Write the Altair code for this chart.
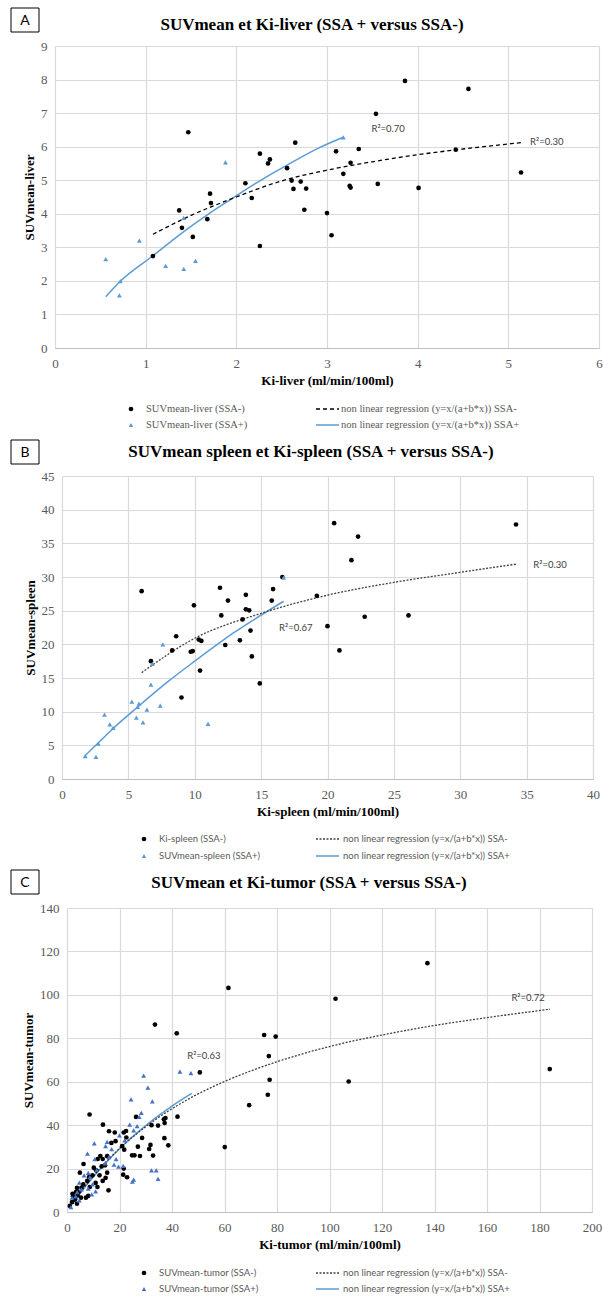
import altair as alt
import pandas as pd

SERIF = "Liberation Serif"
SANS = "Lato"
BLUE = "#5B9BD5"
BLUE_C = "#4472C4"
GREY = "#595959"

# ---------------- Panel A : liver ----------------
A_neg_x = [3.86, 4.56, 3.54, 1.47, 2.65, 4.42, 3.35, 3.10, 2.26, 2.37, 2.35, 3.26, 5.14, 2.56, 3.18,
           2.10, 2.61, 2.71, 3.56, 3.25, 3.26, 2.63, 2.77, 4.01, 1.71, 2.17, 1.37, 1.72, 2.75, 3.00,
           1.40, 1.68, 1.52, 3.05, 2.26, 1.08]
A_neg_y = [7.96, 7.72, 6.98, 6.43, 6.12, 5.91, 5.93, 5.86, 5.79, 5.62, 5.50, 5.52, 5.23, 5.36, 5.19,
           4.91, 4.99, 4.96, 4.89, 4.83, 4.78, 4.74, 4.75, 4.77, 4.60, 4.47, 4.10, 4.32, 4.12, 4.02,
           3.58, 3.84, 3.31, 3.36, 3.04, 2.74]
A_pos_x = [1.88, 3.18, 1.42, 0.93, 0.56, 0.72, 0.71, 1.22, 1.42, 1.55]
A_pos_y = [5.53, 6.28, 3.88, 3.20, 2.65, 1.99, 1.57, 2.45, 2.36, 2.60]
A_fit_neg_x = [1.08, 1.5, 2.0, 2.5, 3.0, 3.5, 4.0, 4.5, 5.14]
A_fit_neg_y = [3.39, 3.95, 4.50, 4.98, 5.30, 5.55, 5.76, 5.93, 6.12]
A_fit_pos_x = [0.56, 0.72, 1.08, 1.42, 1.68, 1.94, 2.3, 2.56, 2.9, 3.18]
A_fit_pos_y = [1.53, 1.99, 2.75, 3.47, 3.97, 4.43, 5.05, 5.45, 5.95, 6.28]
A_r2_text = ["R²=0.70", "R²=0.30"]
A_r2_x = [3.49, 5.24]
A_r2_y = [6.52, 6.15]

# ---------------- Panel B : spleen ----------------
B_neg_x = [34.2, 20.5, 22.3, 21.8, 6.0, 16.6, 19.2, 11.9, 13.85, 15.9, 12.5, 15.8, 9.94, 13.85, 14.1,
           12.0, 13.6, 22.8, 26.1, 20.0, 14.2, 8.6, 10.3, 10.5, 13.4, 12.3, 8.3, 9.7, 9.85, 20.9,
           6.7, 14.3, 10.4, 14.9, 9.0]
B_neg_y = [37.8, 38.0, 36.0, 32.5, 27.9, 30.0, 27.2, 28.4, 27.35, 28.2, 26.5, 26.5, 25.8, 25.2, 25.05,
           24.3, 23.7, 24.1, 24.3, 22.7, 22.05, 21.2, 20.7, 20.5, 20.6, 19.9, 19.1, 18.9, 19.0, 19.1,
           17.5, 18.2, 16.1, 14.2, 12.1]
B_pos_x = [16.7, 7.6, 6.8, 6.7, 5.26, 5.8, 5.7, 6.4, 7.4, 3.2, 5.6, 6.1, 3.6, 3.85, 11.0, 2.73, 1.75, 2.56]
B_pos_y = [29.9, 20.0, 17.1, 14.0, 11.5, 11.2, 10.7, 10.3, 10.9, 9.55, 9.1, 8.4, 8.1, 7.6, 8.2, 5.25, 3.4, 3.3]
B_fit_neg_x = [6.0, 10.0, 15.0, 20.0, 25.0, 30.0, 34.2]
B_fit_neg_y = [15.8, 20.9, 24.6, 27.3, 29.2, 30.7, 31.9]
B_fit_pos_x = [1.75, 2.7, 3.85, 5.7, 8.0, 10.0, 13.0, 16.7]
B_fit_pos_y = [3.5, 5.3, 7.5, 10.7, 14.5, 17.5, 21.8, 26.4]
B_r2_text = ["R²=0.30", "R²=0.67"]
B_r2_x = [35.5, 16.35]
B_r2_y = [31.8, 22.4]

# ---------------- Panel C : tumor ----------------
C_neg_x = [137.3, 61.5, 102.3, 33.5, 41.8, 75.1, 79.5, 76.9, 183.9, 50.6, 77.2, 107.3, 76.5, 69.4,
           60.1, 42.1, 8.6, 37.5, 36.9, 37.2, 32.2, 34.7, 37.1, 38.6, 32.8,
           13.7, 26.3, 16.0, 18.2, 21.6, 22.5, 28.6, 18.5, 16.9, 22.6, 27.0, 31.8, 31.3, 21.8,
           24.8, 25.7, 27.8, 21.0, 15.3, 12.7, 13.6, 11.7, 6.3, 10.2, 11.1, 13.2, 14.5, 21.6,
           21.4, 22.9, 4.9, 14.7, 15.3, 13.6, 12.4, 11.6, 15.8, 8.4, 9.7, 7.7, 6.2, 5.5, 3.8,
           3.4, 2.1, 2.3, 4.0, 5.3, 7.2, 8.1, 3.8, 1.1, 3.1, 1.9, 4.4, 10.9, 8.7]
C_neg_y = [114.6, 103.2, 98.2, 86.3, 82.3, 81.5, 80.8, 71.8, 65.8, 64.3, 60.9, 60.1, 54.0, 49.2,
           29.9, 43.9, 44.9, 43.3, 42.7, 41.0, 40.0, 39.8, 34.0, 30.7, 26.0,
           40.2, 43.8, 37.2, 36.6, 36.6, 37.3, 34.1, 32.6, 31.8, 34.3, 30.1, 30.9, 29.0, 28.7,
           26.1, 26.1, 25.8, 30.3, 25.7, 25.8, 24.4, 24.4, 22.1, 20.4, 19.2, 21.0, 21.5, 20.0,
           17.2, 16.0, 18.1, 15.7, 18.1, 14.3, 16.9, 11.5, 10.0, 16.1, 16.9, 14.3, 12.7, 11.2, 11.1,
           9.2, 8.4, 7.2, 7.7, 6.6, 6.6, 7.4, 3.8, 2.8, 5.7, 4.6, 9.2, 13.4, 11.5]
C_pos_x = [29.2, 43.0, 47.2, 30.8, 24.4, 32.5, 28.3, 27.5, 26.7, 23.9, 25.4, 20.0, 22.0, 10.4, 15.3,
           14.7, 17.0, 7.8, 10.6, 18.7, 19.6, 21.4, 16.0, 14.5, 17.9, 8.1, 11.3, 8.7, 6.5, 9.7,
           4.7, 5.5, 3.9, 10.9, 9.4, 8.1, 3.3, 1.9, 4.7, 1.5, 25.4, 24.9, 32.2, 34.0, 34.7]
C_pos_y = [62.8, 64.7, 63.9, 57.3, 51.9, 51.0, 45.6, 43.8, 39.6, 40.2, 37.6, 35.3, 33.0, 31.6, 32.3,
           30.3, 29.0, 26.9, 24.4, 24.3, 20.9, 21.2, 25.3, 22.4, 21.8, 18.0, 19.4, 16.1, 16.9, 12.7,
           13.5, 10.4, 9.2, 9.5, 8.1, 10.8, 7.2, 6.6, 5.4, 2.3, 14.9, 14.0, 19.2, 19.2, 15.2]
C_fit_neg_x = [2, 5, 10, 20, 30, 47, 60, 80, 100, 120, 140, 160, 184]
C_fit_neg_y = [3.7, 8.8, 16.5, 29.2, 39.3, 52.5, 60.1, 69.2, 76.2, 81.5, 85.9, 89.5, 93.4]
C_fit_pos_x = [2, 5, 10, 15, 20, 25, 30, 35, 40, 47.5]
C_fit_pos_y = [3.5, 8.6, 16.1, 22.9, 29.1, 34.7, 39.8, 44.5, 48.8, 54.6]
C_r2_text = ["R²=0.63", "R²=0.72"]
C_r2_x = [45.8, 169.3]
C_r2_y = [72.0, 98.5]

PANELS = [
    dict(letter="A", title="SUVmean et Ki-liver (SSA + versus SSA-)",
         xtitle="Ki-liver (ml/min/100ml)", ytitle="SUVmean-liver",
         xmax=6, ymax=9, xticks=list(range(0, 7)), yticks=list(range(0, 10)),
         w=544, h=302,
         neg=(A_neg_x, A_neg_y), pos=(A_pos_x, A_pos_y),
         fneg=(A_fit_neg_x, A_fit_neg_y), fpos=(A_fit_pos_x, A_fit_pos_y),
         r2=(A_r2_x, A_r2_y, A_r2_text),
         tri=BLUE, dash=[4, 3], dashcolor="#000000",
         box=(-44, -16, -38, -14), title_xy=(257, -21),
         leg=dict(rows=(363, 379), mx=76, tx=91, lx=(261, 284), tx2=286,
                  font=SERIF, size=10.5,
                  labels=["SUVmean-liver (SSA-)", "non linear regression (y=x/(a+b*x)) SSA-",
                          "SUVmean-liver (SSA+)", "non linear regression (y=x/(a+b*x)) SSA+"])),
    dict(letter="B", title="SUVmean spleen et Ki-spleen (SSA + versus SSA-)",
         xtitle="Ki-spleen (ml/min/100ml)", ytitle="SUVmean-spleen",
         xmax=40, ymax=45, xticks=list(range(0, 41, 5)), yticks=list(range(0, 46, 5)),
         w=531, h=303,
         neg=(B_neg_x, B_neg_y), pos=(B_pos_x, B_pos_y),
         fneg=(B_fit_neg_x, B_fit_neg_y), fpos=(B_fit_pos_x, B_fit_pos_y),
         r2=(B_r2_x, B_r2_y, B_r2_text),
         tri=BLUE, dash=[2, 1.5], dashcolor="#404040",
         box=(-51, -23, -36, -12), title_xy=(249, -24),
         leg=dict(rows=(363, 380), mx=82, tx=97, lx=(254, 277), tx2=281,
                  font=SANS, size=9.5,
                  labels=["Ki-spleen (SSA-)", "non linear regression (y=x/(a+b*x)) SSA-",
                          "SUVmean-spleen (SSA+)", "non linear regression (y=x/(a+b*x)) SSA+"])),
    dict(letter="C", title="SUVmean et Ki-tumor (SSA + versus SSA-)",
         xtitle="Ki-tumor (ml/min/100ml)", ytitle="SUVmean-tumor",
         xmax=200, ymax=140, xticks=list(range(0, 201, 20)), yticks=list(range(0, 141, 20)),
         w=525, h=304,
         neg=(C_neg_x, C_neg_y), pos=(C_pos_x, C_pos_y),
         fneg=(C_fit_neg_x, C_fit_neg_y), fpos=(C_fit_pos_x, C_fit_pos_y),
         r2=(C_r2_x, C_r2_y, C_r2_text),
         tri=BLUE_C, dash=[2, 1.5], dashcolor="#404040",
         box=(-56, -28, -38, -14), title_xy=(242, -25),
         leg=dict(rows=(365, 381), mx=77, tx=92, lx=(249, 272), tx2=276,
                  font=SANS, size=9.5,
                  labels=["SUVmean-tumor (SSA-)", "non linear regression (y=x/(a+b*x)) SSA-",
                          "SUVmean-tumor (SSA+)", "non linear regression (y=x/(a+b*x)) SSA+"])),
]

DUMMY = pd.DataFrame({"k": [0]})


def make_panel(p):
    xs = alt.Scale(domain=[0, p["xmax"]], nice=False)
    ys = alt.Scale(domain=[0, p["ymax"]], nice=False)
    xaxis = alt.Axis(values=p["xticks"], grid=True, gridColor="#d9d9d9", gridWidth=1.2,
                     domain=True, domainColor="#bfbfbf", domainWidth=1.2, ticks=False,
                     labelFont=SERIF, labelFontSize=13, labelColor=GREY, labelPadding=9,
                     labelFlush=False, titleFont=SERIF, titleFontSize=13, titleFontWeight="bold",
                     titleColor="black", titlePadding=4)
    yaxis = alt.Axis(values=p["yticks"], grid=True, gridColor="#d9d9d9", gridWidth=1.2,
                     domain=False, ticks=False,
                     labelFont=SERIF, labelFontSize=13, labelColor=GREY, labelPadding=8,
                     labelFlush=False, titleFont=SERIF, titleFontSize=13, titleFontWeight="bold",
                     titleColor="black", titlePadding=4)
    X = alt.X("x:Q", scale=xs, axis=xaxis, title=p["xtitle"])
    Y = alt.Y("y:Q", scale=ys, axis=yaxis, title=p["ytitle"])

    neg = alt.Chart(pd.DataFrame({"x": p["neg"][0], "y": p["neg"][1]})).mark_point(
        shape="circle", filled=True, size=22, color="black", opacity=1).encode(x=X, y=Y)
    pos = alt.Chart(pd.DataFrame({"x": p["pos"][0], "y": p["pos"][1]})).mark_point(
        shape="triangle-up", filled=True, size=24, color=p["tri"], opacity=1).encode(x=X, y=Y)
    fneg = alt.Chart(pd.DataFrame({"x": p["fneg"][0], "y": p["fneg"][1]})).mark_line(
        color=p["dashcolor"], strokeDash=p["dash"], strokeWidth=1.3, interpolate="monotone").encode(x=X, y=Y)
    fpos = alt.Chart(pd.DataFrame({"x": p["fpos"][0], "y": p["fpos"][1]})).mark_line(
        color=BLUE, strokeWidth=1.5, interpolate="monotone").encode(x=X, y=Y)
    r2 = alt.Chart(pd.DataFrame({"x": p["r2"][0], "y": p["r2"][1], "t": p["r2"][2]})).mark_text(
        font=SANS, fontSize=9.5, color="#404040", align="left", baseline="middle").encode(
        x=X, y=Y, text="t:N")

    layers = [fpos, fneg, neg, pos, r2]

    # title
    tx, ty = p["title_xy"]
    layers.append(alt.Chart(DUMMY).mark_text(
        text=p["title"], font=SERIF, fontSize=17, fontWeight="bold", color="black",
        align="center", baseline="middle").encode(x=alt.value(tx), y=alt.value(ty)))
    # letter box
    bx0, bx1, by0, by1 = p["box"]
    layers.append(alt.Chart(DUMMY).mark_rect(fill="white", stroke="black", strokeWidth=1).encode(
        x=alt.value(bx0), x2=alt.value(bx1), y=alt.value(by0), y2=alt.value(by1)))
    layers.append(alt.Chart(DUMMY).mark_text(
        text=p["letter"], font=SANS, fontSize=14, color="black", align="center",
        baseline="middle").encode(x=alt.value((bx0 + bx1) / 2), y=alt.value((by0 + by1) / 2 + 1)))

    # legend
    lg = p["leg"]
    r1, r2y = lg["rows"]
    layers.append(alt.Chart(DUMMY).mark_point(
        shape="circle", filled=True, size=22, color="black", opacity=1).encode(
        x=alt.value(lg["mx"]), y=alt.value(r1)))
    layers.append(alt.Chart(DUMMY).mark_point(
        shape="triangle-up", filled=True, size=20, color=p["tri"], opacity=1).encode(
        x=alt.value(lg["mx"]), y=alt.value(r2y)))
    layers.append(alt.Chart(DUMMY).mark_rule(
        color=p["dashcolor"], strokeDash=p["dash"], strokeWidth=1.3).encode(
        x=alt.value(lg["lx"][0]), x2=alt.value(lg["lx"][1]), y=alt.value(r1)))
    layers.append(alt.Chart(DUMMY).mark_rule(
        color=BLUE, strokeWidth=1.5).encode(
        x=alt.value(lg["lx"][0]), x2=alt.value(lg["lx"][1]), y=alt.value(r2y)))
    for i, (lx, ly) in enumerate([(lg["tx"], r1), (lg["tx2"], r1), (lg["tx"], r2y), (lg["tx2"], r2y)]):
        layers.append(alt.Chart(DUMMY).mark_text(
            text=lg["labels"][i], font=lg["font"], fontSize=lg["size"], color=GREY,
            align="left", baseline="middle").encode(x=alt.value(lx), y=alt.value(ly)))

    return alt.layer(*layers).properties(width=p["w"], height=p["h"])


def spacer():
    # invisible left margin cell so each panel keeps its own left offset
    return alt.Chart(DUMMY).mark_point(opacity=0, size=1).encode(
        x=alt.value(5), y=alt.value(5)).properties(width=10, height=10)


rows = [alt.hconcat(spacer(), make_panel(p), spacing=0) for p in PANELS]
chart = alt.vconcat(*rows, spacing=8).properties(
    padding={"left": 0, "top": 7, "right": 0, "bottom": 0},
    background="white",
).configure_view(stroke=None)

chart.save("out.html", embed_options={"renderer": "svg", "actions": False})
